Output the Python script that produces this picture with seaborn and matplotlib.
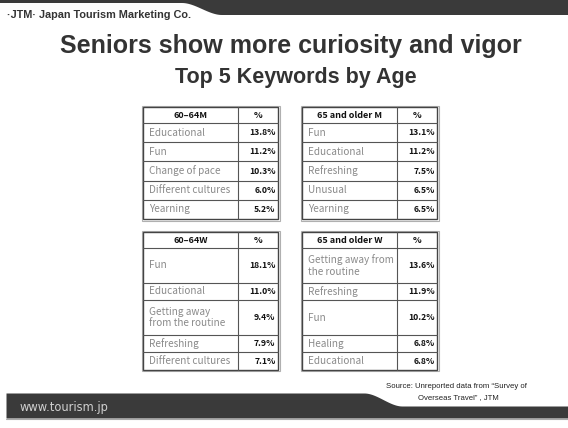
import numpy as np
import matplotlib
matplotlib.use("Agg")
import matplotlib.pyplot as plt
from matplotlib.patches import Rectangle
import seaborn as sns

# ==========================================
# data
# ==========================================
headers = ["60\u201364M", "65 and older M", "60\u201364W", "65 and older W"]

labels_m6064 = ["Educational", "Fun", "Change of pace", "Different cultures", "Yearning"]
pct_m6064 = [13.8, 11.2, 10.3, 6.0, 5.2]

labels_m65 = ["Fun", "Educational", "Refreshing", "Unusual", "Yearning"]
pct_m65 = [13.1, 11.2, 7.5, 6.5, 6.5]

labels_w6064 = ["Fun", "Educational", "Getting away\nfrom the routine", "Refreshing", "Different cultures"]
pct_w6064 = [18.1, 11.0, 9.4, 7.9, 7.1]

labels_w65 = ["Getting away from\nthe routine", "Refreshing", "Fun", "Healing", "Educational"]
pct_w65 = [13.6, 11.9, 10.2, 6.8, 6.8]

# ==========================================
# layout (pixels)
# ==========================================
W, H = 568, 428
DARK = "#3a3a3a"
sns.set_theme(style="white")
plt.rcParams['font.family'] = ['Liberation Sans', 'DejaVu Sans']

fig = plt.figure(figsize=(W / 100, H / 100), dpi=100)
ax = fig.add_axes([0, 0, 1, 1])
ax.set_xlim(0, W)
ax.set_ylim(H, 0)
ax.axis("off")


def smooth(x, x0, x1, y0, y1):
    t = np.clip((x - x0) / (x1 - x0), 0, 1)
    s = t * t * (3 - 2 * t)
    return y0 + (y1 - y0) * s


# top banner
xs = np.linspace(0, W, 400)
ax.fill_between(xs, 0, smooth(xs, 182, 222, 3, 15), color=DARK, lw=0)
# bottom banner
xs2 = np.linspace(6, W, 400)
ax.fill_between(xs2, smooth(xs2, 364, 402, 393, 406), 418, color=DARK, lw=0)
ax.plot([6, W], [419, 419], color="#aaaaaa", lw=0.8)

ax.text(7, 15, "\u00b7JTM\u00b7 Japan Tourism Marketing Co.", fontsize=7.8, fontweight="bold",
        color="#333333", va="center", ha="left")
ax.text(291, 45.5, "Seniors show more curiosity and vigor", fontsize=18, fontweight="bold",
        color="#333333", ha="center", va="center")
ax.text(296, 77, "Top 5 Keywords by Age", fontsize=15.5, fontweight="bold",
        color="#333333", ha="center", va="center")
ax.text(20, 407, "www.tourism.jp", fontsize=8.3, color="#d0d0d0", ha="left", va="center",
        family=["DejaVu Sans"])
ax.text(386, 387, "Source: Unreported data from \u201cSurvey of", fontsize=5.6, color="#222222",
        ha="left", va="center")
ax.text(418, 398, "Overseas Travel\u201d , JTM", fontsize=5.6, color="#222222",
        ha="left", va="center")

tables = [
    (headers[0], labels_m6064, pct_m6064, 143, 107, [1, 1, 1, 1, 1], 19.2),
    (headers[1], labels_m65, pct_m65, 302, 107, [1, 1, 1, 1, 1], 19.2),
    (headers[2], labels_w6064, pct_w6064, 143, 232, [2, 1, 2, 1, 1], 17.4),
    (headers[3], labels_w65, pct_w65, 302, 232, [2, 1, 2, 1, 1], 17.4),
]
TW, CW, HH = 135, 95, 16
tfont = ['Noto Sans CJK JP', 'DejaVu Sans']

for head, labs, vals, x0, y0, units, unit_h in tables:
    heights = [HH] + [u * unit_h for u in units]
    tops = y0 + np.concatenate([[0], np.cumsum(heights)[:-1]])
    total = sum(heights)
    # shadow / outer frame
    ax.add_patch(Rectangle((x0 - 1.5, y0 - 1.5), TW + 3, total + 3, fill=False,
                           ec="#b0b0b0", lw=0.8))
    ax.add_patch(Rectangle((x0, y0), TW, total, fc="white", ec="#444444", lw=1.0))
    for t in tops[1:]:
        ax.plot([x0, x0 + TW], [t, t], color="#555555", lw=0.8)
    ax.plot([x0 + CW, x0 + CW], [y0, y0 + total], color="#555555", lw=0.8)
    ax.text(x0 + CW / 2, y0 + HH / 2, head, fontsize=6.5, fontweight="bold",
            ha="center", va="center", family=tfont, color="#111111")
    ax.text(x0 + CW + (TW - CW) / 2, y0 + HH / 2, "%", fontsize=6.5, fontweight="bold",
            ha="center", va="center", family=tfont, color="#111111")
    for lab, v, t, h in zip(labs, vals, tops[1:], heights[1:]):
        ax.text(x0 + 6, t + h / 2, lab, fontsize=7.2, ha="left", va="center",
                family=tfont, color="#8a8a8a", linespacing=1.2)
        ax.text(x0 + TW - 2.5, t + h / 2, f"{v:.1f}%", fontsize=6.2, fontweight="bold",
                ha="right", va="center", family=tfont, color="#111111")

fig.savefig("out.png", dpi=100)
